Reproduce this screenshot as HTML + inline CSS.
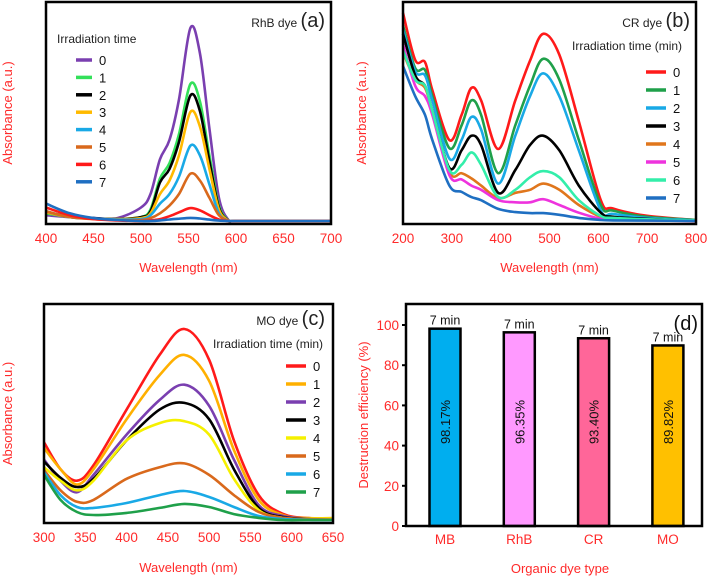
<!DOCTYPE html>
<html><head><meta charset="utf-8">
<style>
html,body{margin:0;padding:0;background:#fff;}
svg{display:block;font-family:"Liberation Sans",Arial,sans-serif;}
</style></head>
<body>
<svg id="fig" width="708" height="579" viewBox="0 0 708 579"></svg>
<script>
// ---------- Panel (a) RhB ----------
const aWave = [400,425,450,475,500,510,520,530,540,552,562,572,582,592,600,650,700];
const aS0 = [0.03,0.02,0.015,0.015,0.07,0.14,0.32,0.42,0.63,1.0,0.87,0.48,0.12,0.005,0,0,0];
const aS1 = [0.04,0.02,0.012,0.01,0.02,0.06,0.22,0.30,0.45,0.71,0.62,0.34,0.08,0.003,0,0,0];
const aS2 = [0.045,0.025,0.015,0.01,0.02,0.05,0.20,0.27,0.41,0.65,0.57,0.31,0.07,0.003,0,0,0];
const aS3 = [0.045,0.02,0.012,0.01,0.015,0.04,0.14,0.21,0.34,0.565,0.49,0.27,0.06,0.003,0,0,0];
const aS4 = [0.05,0.02,0.012,0.008,0.01,0.03,0.09,0.14,0.23,0.39,0.34,0.19,0.04,0.002,0,0,0];
const aS5 = [0.05,0.02,0.01,0.005,0.005,0.015,0.04,0.08,0.14,0.245,0.21,0.12,0.03,0.002,0,0,0];
const aS6 = [0.07,0.03,0.01,0.003,0,0.003,0.01,0.025,0.045,0.067,0.055,0.03,0.008,0,0,0,0];
const aS7 = [0.09,0.04,0.015,0.005,0,0,0.003,0.008,0.012,0.016,0.013,0.007,0.002,0,0,0,0];
const aTicks = [400,450,500,550,600,650,700];
const aColors = ["#7a3fb0","#33e05a","#000000","#ffba00","#19a9e6","#d9691c","#ff1a1a","#1f6fc2"];
const aLabels = ["0","1","2","3","4","5","6","7"];

// ---------- Panel (b) CR ----------
const bWave = [200,225,245,260,295,320,340,360,395,430,460,487,520,560,605,630,700,800];
const bS0 = [1.0,0.774,0.764,0.63,0.389,0.51,0.64,0.58,0.346,0.58,0.77,0.9,0.8,0.48,0.1,0.06,0.025,0.005];
const bS1 = [0.94,0.735,0.726,0.6,0.35,0.46,0.58,0.51,0.23,0.46,0.65,0.78,0.68,0.39,0.077,0.05,0.02,0.005];
const bS2 = [0.92,0.72,0.70,0.58,0.30,0.39,0.5,0.44,0.18,0.41,0.6,0.71,0.6,0.34,0.05,0.034,0.015,0.003];
const bS3 = [0.9,0.70,0.65,0.53,0.255,0.34,0.41,0.365,0.135,0.245,0.365,0.41,0.34,0.17,0.04,0.02,0.01,0];
const bS4 = [0.81,0.68,0.64,0.53,0.235,0.23,0.205,0.17,0.11,0.135,0.15,0.18,0.15,0.077,0.02,0.012,0.005,0];
const bS5 = [0.85,0.65,0.6,0.51,0.22,0.2,0.17,0.15,0.1,0.09,0.09,0.105,0.077,0.04,0.01,0.006,0.003,0];
const bS6 = [0.82,0.68,0.65,0.53,0.245,0.27,0.33,0.27,0.115,0.15,0.21,0.24,0.21,0.1,0.024,0.015,0.008,0.002];
const bS7 = [0.745,0.6,0.51,0.39,0.17,0.14,0.115,0.1,0.058,0.043,0.038,0.038,0.03,0.015,0.005,0.003,0.002,0];
const bTicks = [200,300,400,500,600,700,800];
const bColors = ["#ff1a1a","#1fa04a","#19a9e6","#000000","#e0761c","#ee33dd","#33eeaa","#1f6fc2"];

// ---------- Panel (c) MO ----------
const cWave = [300,320,340,360,400,440,470,500,530,560,590,620,650];
const cS0 = [0.41,0.27,0.21,0.29,0.58,0.865,1.0,0.84,0.42,0.135,0.036,0.015,0.01];
const cS1 = [0.38,0.27,0.19,0.27,0.53,0.76,0.865,0.73,0.37,0.11,0.03,0.015,0.015];
const cS2 = [0.32,0.21,0.15,0.24,0.45,0.63,0.71,0.6,0.32,0.083,0.026,0.012,0.01];
const cS3 = [0.31,0.225,0.177,0.22,0.42,0.58,0.615,0.53,0.27,0.068,0.02,0.012,0.01];
const cS4 = [0.28,0.21,0.16,0.21,0.42,0.51,0.52,0.45,0.22,0.057,0.016,0.012,0.012];
const cS5 = [0.265,0.16,0.1,0.11,0.22,0.28,0.3,0.24,0.135,0.047,0.016,0.01,0.008];
const cS6 = [0.255,0.135,0.073,0.068,0.094,0.135,0.156,0.125,0.073,0.026,0.01,0.006,0.005];
const cS7 = [0.24,0.11,0.047,0.031,0.042,0.068,0.089,0.073,0.036,0.016,0.005,0.005,0.005];
const cTicks = [300,350,400,450,500,550,600,650];
const cColors = ["#ff1a1a","#ffb000","#7a3fb0","#000000","#f5f000","#d9691c","#19a9e6","#1fa04a"];

// ---------- Panel (d) bars ----------
const dCats = ["MB","RhB","CR","MO"];
const dValues = [98.17,96.35,93.40,89.82];
const dLabels = ["98.17%","96.35%","93.40%","89.82%"];
const dTimes = ["7 min","7 min","7 min","7 min"];
const dColors = ["#00aeef","#ff99ff","#ff6699","#ffc000"];
const dTicks = [0,20,40,60,80,100];

const NS="http://www.w3.org/2000/svg";
const svg=document.getElementById('fig');
function mk(tag,attrs,parent,txt){const e=document.createElementNS(NS,tag);for(const k in attrs)e.setAttribute(k,attrs[k]);if(txt!==undefined)e.textContent=txt;(parent||svg).appendChild(e);return e;}
function smooth(pts){let d="M"+pts[0][0].toFixed(1)+","+pts[0][1].toFixed(1);
 for(let i=0;i<pts.length-1;i++){const p0=pts[Math.max(0,i-1)],p1=pts[i],p2=pts[i+1],p3=pts[Math.min(pts.length-1,i+2)];
  const c1x=p1[0]+(p2[0]-p0[0])/6,c1y=p1[1]+(p2[1]-p0[1])/6,c2x=p2[0]-(p3[0]-p1[0])/6,c2y=p2[1]-(p3[1]-p1[1])/6;
  d+=" C"+c1x.toFixed(1)+","+c1y.toFixed(1)+" "+c2x.toFixed(1)+","+c2y.toFixed(1)+" "+p2[0].toFixed(1)+","+p2[1].toFixed(1);}
 return d;}

function linePanel(cfg){
 const g=mk('g',{});
 
 
 const X=v=>cfg.x0+(v-cfg.xmin)/(cfg.xmax-cfg.xmin)*(cfg.x1-cfg.x0);
 const Y=v=>cfg.yz-v*cfg.ys;
 cfg.series.forEach((s,i)=>{
  const p=mk('path',{d:smooth(cfg.wave.map((w,j)=>[X(w),Y(s[j])])),fill:'none',stroke:cfg.colors[i],'stroke-width':2.6,'stroke-linejoin':'round'},g);
  
  
 });
 const fr=mk('rect',{x:cfg.x0,y:cfg.top,width:cfg.x1-cfg.x0,height:cfg.bot-cfg.top,fill:'none',stroke:'#000','stroke-width':2.5},g);
 
 
 cfg.ticks.forEach(t=>{
  const tl=mk('text',{x:X(t),y:cfg.tickY,'text-anchor':'middle','font-size':13.5,fill:'#ff2a2a'},g,String(t));
  
  
 });
 const xl=mk('text',{x:(cfg.x0+cfg.x1)/2,y:cfg.xlabY,'text-anchor':'middle','font-size':13,fill:'#ff2a2a'},g,'Wavelength (nm)');
 
 
 const yl=mk('text',{x:0,y:0,transform:`translate(${cfg.ylabX},${(cfg.top+cfg.bot)/2}) rotate(-90)`,'text-anchor':'middle','font-size':13,fill:'#ff2a2a'},g,'Absorbance (a.u.)');
 
 
 const tt=mk('text',{x:cfg.titleX,y:cfg.titleY,'text-anchor':'end','font-size':12,fill:'#222'},g);
 mk('tspan',{},tt,cfg.title+' ');
 mk('tspan',{'font-size':20},tt,cfg.letter);
 
 
 const lh=mk('text',{x:cfg.legHX,y:cfg.legHY,'font-size':12,fill:'#222'},g,cfg.legHead);
 
 
 aLabels.forEach((lab,i)=>{
  const yy=cfg.legY0+i*cfg.legDy;
  const le=mk('g',{},g);
  
  
  mk('line',{x1:cfg.legX0,x2:cfg.legX1,y1:yy,y2:yy,stroke:cfg.colors[i],'stroke-width':3.5},le);
  mk('text',{x:cfg.legX1+7,y:yy+5,'font-size':13,fill:'#111'},le,lab);
 });
}

linePanel({name:'panel-a-rhb',wave:aWave,series:[aS0,aS1,aS2,aS3,aS4,aS5,aS6,aS7],colors:aColors,
 x0:46,x1:331,xmin:400,xmax:700,top:2,bot:224,yz:221,ys:193,ticks:aTicks,tickY:243,xlabY:272,ylabX:12,
 title:'RhB dye',letter:'(a)',titleX:325,titleY:27,legHead:'Irradiation time',legHX:57,legHY:43,
 legX0:76,legX1:92,legY0:60,legDy:17.4});
linePanel({name:'panel-b-cr',wave:bWave,series:[bS0,bS1,bS2,bS3,bS4,bS5,bS6,bS7],colors:bColors,
 x0:403,x1:696,xmin:200,xmax:800,top:2,bot:224,yz:221,ys:208,ticks:bTicks,tickY:243,xlabY:272,ylabX:366,
 title:'CR dye',letter:'(b)',titleX:690,titleY:27,legHead:'Irradiation time (min)',legHX:572,legHY:50,
 legX0:646,legX1:666,legY0:72,legDy:18});
linePanel({name:'panel-c-mo',wave:cWave,series:[cS0,cS1,cS2,cS3,cS4,cS5,cS6,cS7],colors:cColors,
 x0:44,x1:333,xmin:300,xmax:650,top:304,bot:523,yz:521,ys:192,ticks:cTicks,tickY:542,xlabY:572,ylabX:12,
 title:'MO dye',letter:'(c)',titleX:325,titleY:325,legHead:'Irradiation time (min)',legHX:213,legHY:348,
 legX0:286,legX1:306,legY0:366,legDy:18});

// Panel d
(function(){
 const g=mk('g',{});
 
 
 const x0=406,x1=702,top=304,bot=526,y0=526,s=2.01;
 const Y=v=>y0-v*s;
 const XC=i=>445+i*74.3;
 dValues.forEach((v,i)=>{
  const b=mk('rect',{x:XC(i)-15.5,y:Y(v),width:31,height:y0-Y(v),fill:dColors[i],stroke:'#000','stroke-width':2.5},g);
  
  
  const t=mk('text',{x:XC(i),y:Y(v)-4,'text-anchor':'middle','font-size':12.5,fill:'#111'},g,dTimes[i]);
  
  
  const vl=mk('text',{x:0,y:0,transform:`translate(${XC(i)+5},422) rotate(-90)`,'text-anchor':'middle','font-size':13,fill:'#111'},g,dLabels[i]);
  
  
  const cl=mk('text',{x:XC(i),y:544,'text-anchor':'middle','font-size':13.5,fill:'#ff2a2a'},g,dCats[i]);
  
  
 });
 const fr=mk('rect',{x:x0,y:top,width:x1-x0,height:bot-top,fill:'none',stroke:'#000','stroke-width':2.5},g);
 
 
 dTicks.forEach(t=>{
  mk('line',{x1:x0-4,x2:x0,y1:Y(t),y2:Y(t),stroke:'#000','stroke-width':2},g);
  const tl=mk('text',{x:x0-7,y:Y(t)+5,'text-anchor':'end','font-size':13.5,fill:'#ff2a2a'},g,String(t));
  
  
 });
 const yl=mk('text',{x:0,y:0,transform:'translate(368,415) rotate(-90)','text-anchor':'middle','font-size':13,fill:'#ff2a2a'},g,'Destruction efficiency (%)');
 
 
 const xl=mk('text',{x:560,y:573,'text-anchor':'middle','font-size':13,fill:'#ff2a2a'},g,'Organic dye type');
 
 
 const pl=mk('text',{x:698,y:330,'text-anchor':'end','font-size':20,fill:'#111'},g,'(d)');
 
 
})();
</script>
</body></html>
